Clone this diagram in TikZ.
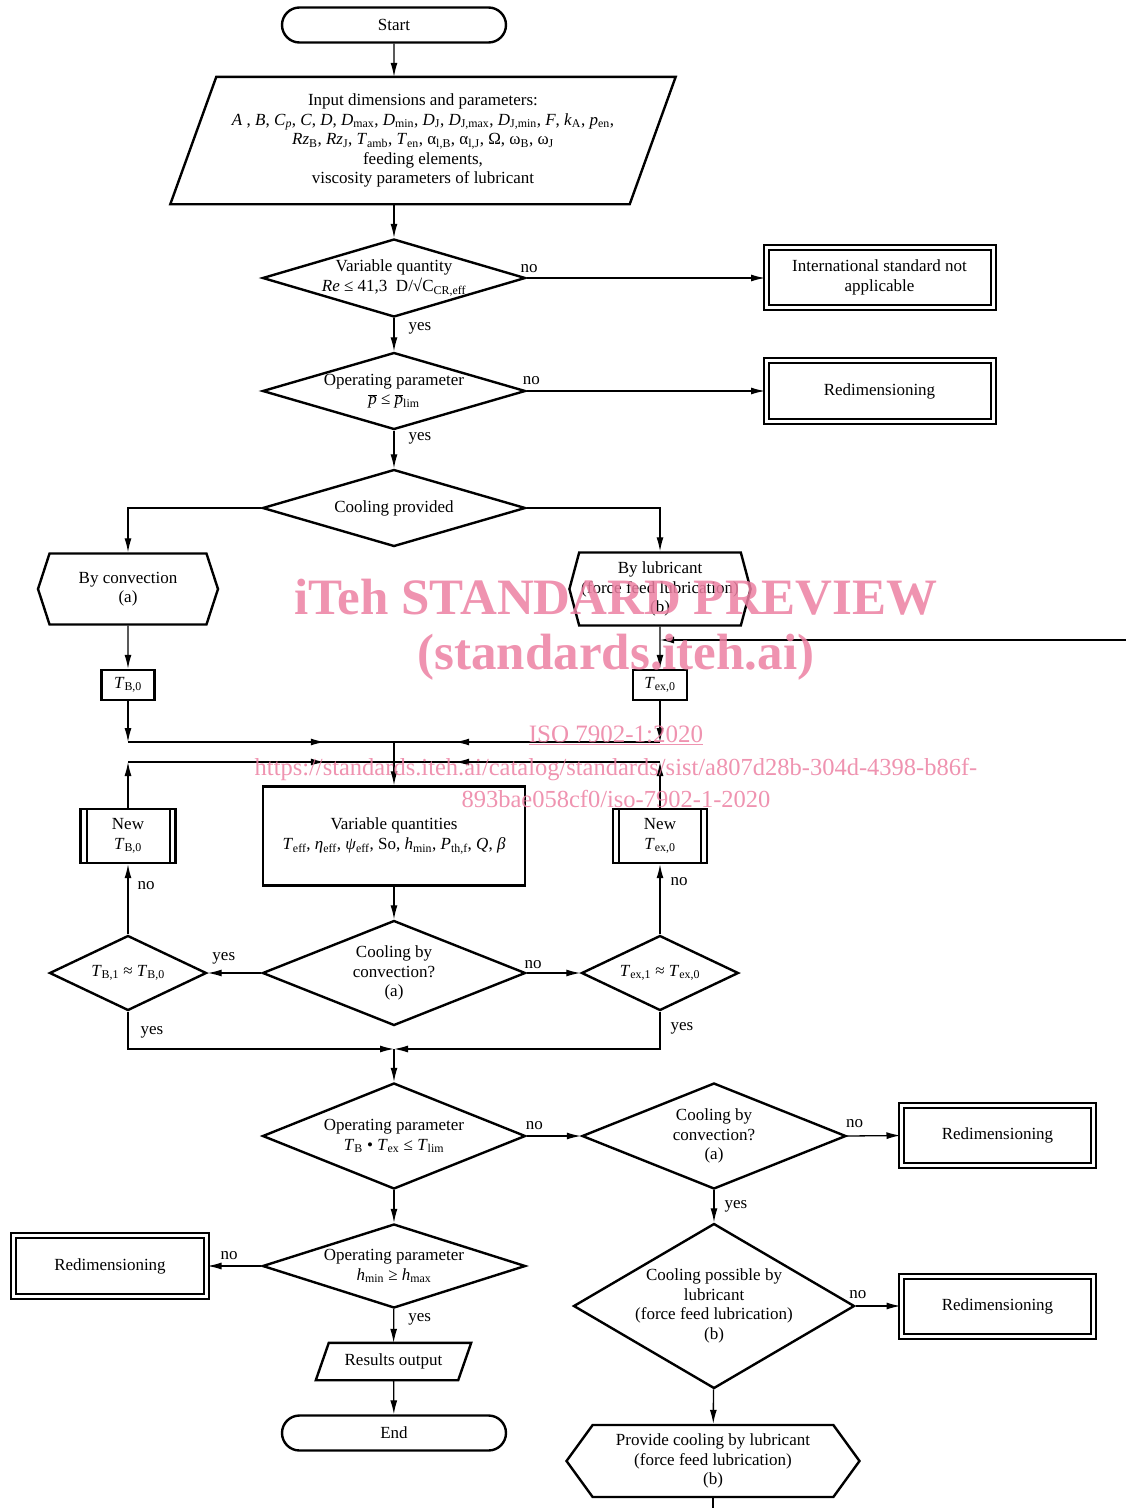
\documentclass[tikz,border=0pt]{standalone}
\usepackage{fontspec}
\setmainfont{Liberation Serif}
\usetikzlibrary{positioning,shapes.geometric,shapes.misc,shapes.symbols,arrows.meta,decorations.markings}

\newcommand{\idx}[1]{\textsubscript{#1}}
\newcommand{\pbar}{$\overline{\mbox{\textit{p}}}$}
\definecolor{wmpink}{RGB}{236,128,162}

\tikzset{
	base/.style={draw, line width=2.4pt, align=center, inner sep=2pt},
	term/.style={base, rounded rectangle, minimum width=228pt, minimum height=35pt},
	io/.style={align=center, inner sep=2pt},
	slant/.style={line width=2.4pt},
	dia/.style={base, diamond, inner sep=-5pt},
	hexa/.style={base, signal, signal to=east and west},
	box/.style={base, rectangle},
	dbox/.style={draw, double, double distance=3pt, line width=2pt, align=center},
	newbox/.style={box, path picture={\draw[line width=2pt] ([xshift=6pt]path picture bounding box.north west) -- ([xshift=6pt]path picture bounding box.south west) ([xshift=-6pt]path picture bounding box.north east) -- ([xshift=-6pt]path picture bounding box.south east);}},
	arr/.style={-{Latex[length=14pt,width=7pt]}, line width=1.3pt},
	line/.style={line width=1.3pt},
	midarr/.style={line, postaction={decorate}, decoration={markings, mark=at position #1 with {\arrow{Latex[length=14pt,width=7pt]}}}},
	lbl/.style={inner sep=2pt},
	wm/.style={text=wmpink, opacity=0.85, align=center, inner sep=0pt}
}

\begin{document}
\begin{tikzpicture}[x=1pt, y=-1pt, font=\fontsize{17}{19.5}\selectfont]
	\useasboundingbox (0,0) rectangle (1126,1508);

	\node[term] (start) at (394,25) {Start};
	\node[io, minimum width=459pt, minimum height=127pt] (input) at (423,140.5) {Input dimensions and parameters:\\
		\textit{A} , \textit{B}, \textit{C}\idx{\textit{p}}, \textit{C}, \textit{D}, \textit{D}\idx{max}, \textit{D}\idx{min}, \textit{D}\idx{J}, \textit{D}\idx{J,max}, \textit{D}\idx{J,min}, \textit{F}, \textit{k}\idx{A}, \textit{p}\idx{en},\\
		\textit{Rz}\idx{B}, \textit{Rz}\idx{J}, \textit{T}\idx{amb}, \textit{T}\idx{en}, α\idx{l,B}, α\idx{l,J}, Ω, ω\idx{B}, ω\idx{J}\\
		feeding elements,\\
		viscosity parameters of lubricant};
	\draw[slant] ([xshift=23pt]input.north west) -- ([xshift=23pt]input.north east) -- ([xshift=-23pt]input.south east) -- ([xshift=-23pt]input.south west) -- cycle;
	\node[dia, aspect=3.3, minimum width=263pt, minimum height=78pt] (d1) at (394,278) {Variable quantity\\ \textit{Re} ≤ 41,3~~D/√C\idx{CR,eff}};
	\node[dbox, minimum width=227pt, minimum height=60pt] (intl) at (879.5,277.5) {International standard not\\applicable};
	\node[dia, aspect=3.3, minimum width=263pt, minimum height=77pt] (d2) at (394,391) {Operating parameter\\ \pbar{} ≤ \pbar\idx{lim}};
	\node[dbox, minimum width=227pt, minimum height=61pt] (redimA) at (879.5,391) {Redimensioning};
	\node[dia, aspect=3.3, minimum width=263pt, minimum height=77pt] (d3) at (394,508) {Cooling provided};

	\node[hexa, signal pointer angle=144, minimum width=180pt, minimum height=71pt] (conv) at (128,589) {By convection\\(a)};
	\node[hexa, signal pointer angle=150, minimum width=174pt, minimum height=73pt] (lub) at (660,589) {By lubricant\\(force feed lubrication)\\(b)};
	\node[box, minimum width=53pt, minimum height=30pt] (tb0) at (128,685) {\textit{T}\idx{B,0}};
	\node[box, minimum width=54pt, minimum height=30pt] (tex0) at (660,685) {\textit{T}\idx{ex,0}};

	\coordinate (j1) at (394,742);
	\coordinate (j2) at (394,762);
	\node[box, minimum width=262pt, minimum height=99pt] (vq) at (394,836) {Variable quantities\\ \textit{T}\idx{eff}, \textit{η}\idx{eff}, \textit{ψ}\idx{eff}, So, \textit{h}\idx{min}, \textit{P}\idx{th,f}, \textit{Q}, \textit{β}};
	\node[newbox, minimum width=95pt, minimum height=54pt] (newb) at (128,836) {New\\ \textit{T}\idx{B,0}};
	\node[newbox, minimum width=94pt, minimum height=54pt] (newex) at (660,836) {New\\ \textit{T}\idx{ex,0}};

	\node[dia, aspect=2.5, minimum width=263pt, minimum height=105pt] (d4) at (394,973) {Cooling by\\convection?\\(a)};
	\node[dia, aspect=2.06, minimum width=157pt, minimum height=75pt] (d5) at (128,973) {\textit{T}\idx{B,1} ≈ \textit{T}\idx{B,0}};
	\node[dia, aspect=2.06, minimum width=157pt, minimum height=75pt] (d6) at (660,973) {\textit{T}\idx{ex,1} ≈ \textit{T}\idx{ex,0}};
	\coordinate (j3) at (394,1049);

	\node[dia, aspect=2.45, minimum width=263pt, minimum height=106pt] (d7) at (394,1136) {Operating parameter\\ \textit{T}\idx{B} • \textit{T}\idx{ex} ≤ \textit{T}\idx{lim}};
	\node[dia, aspect=2.45, minimum width=264pt, minimum height=106pt] (d8) at (714,1136) {Cooling by\\convection?\\(a)};
	\node[dbox, minimum width=192pt, minimum height=60pt] (redimB) at (997.5,1135.5) {Redimensioning};
	\node[dia, aspect=3.1, minimum width=263pt, minimum height=84pt] (d9) at (394,1266) {Operating parameter\\ \textit{h}\idx{min} ≥ \textit{h}\idx{max}};
	\node[dbox, minimum width=193pt, minimum height=61pt] (redimC) at (110,1266) {Redimensioning};
	\node[dia, aspect=1.7, minimum width=281pt, minimum height=165pt] (d10) at (714,1306) {Cooling possible by\\lubricant\\(force feed lubrication)\\(b)};
	\node[dbox, minimum width=192pt, minimum height=60pt] (redimD) at (997.5,1306) {Redimensioning};
	\node[io, minimum width=142pt, minimum height=37pt] (results) at (393.5,1361.5) {Results output};
	\draw[slant] ([xshift=6.5pt]results.north west) -- ([xshift=6.5pt]results.north east) -- ([xshift=-6.5pt]results.south east) -- ([xshift=-6.5pt]results.south west) -- cycle;
	\node[term] (end) at (394,1433) {End};
	\node[hexa, signal pointer angle=108, minimum width=293pt, minimum height=72pt] (provide) at (713,1461) {Provide cooling by lubricant\\(force feed lubrication)\\(b)};
	\coordinate (e1) at (1126,640);
	\coordinate (e2) at (713,1508);

	\draw[arr] (start) -- (start |- input.north);
	\draw[arr] (start |- input.south) -- (d1);
	\draw[arr] (d1.east) -- node[lbl, above=3pt, pos=0.01] {no} (d1.east -| intl.west);
	\draw[arr] (d1) -- node[lbl, right=12pt, pos=0.3] {yes} (d2);
	\draw[arr] (d2.east) -- node[lbl, above=4pt, pos=0.02] {no} (redimA.west);
	\draw[arr] (d2) -- node[lbl, right=12pt, pos=0.2] {yes} (d3);
	\draw[arr] (d3.west) -| (conv);
	\draw[arr] (d3.east) -| (lub);
	\draw[arr] (conv) -- (tb0);
	\draw[arr] (lub) -- (tex0);
	\draw[arr] (e1) -- (lub.south |- e1);
	\draw[arr] (tb0) -- (tb0 |- j1);
	\draw[midarr=0.74] (tb0 |- j1) -- (j1);
	\draw[arr] (tex0) -- (tex0 |- j1);
	\draw[midarr=0.77] (tex0 |- j1) -- (j1);
	\draw[arr] (newb) -- (newb |- j2);
	\draw[midarr=0.74] (newb |- j2) -- (j2);
	\draw[arr] (newex) -- (newex |- j2);
	\draw[midarr=0.77] (newex |- j2) -- (j2);
	\draw[arr] (j1) -- (vq);
	\draw[arr] (vq) -- (d4);
	\draw[arr] (d4.west) -- node[lbl, above=6pt, pos=0.7] {yes} (d5.east);
	\draw[arr] (d4.east) -- node[lbl, above=2pt, pos=0.12] {no} (d6.west);
	\draw[arr] (d5) -- node[lbl, right=7pt, pos=0.69] {no} (newb);
	\draw[arr] (d6) -- node[lbl, right=8pt, pos=0.75] {no} (newex);
	\draw[arr] (d5.south) |- node[lbl, right=10pt, pos=0.28] {yes} (j3);
	\draw[arr] (d6.south) |- node[lbl, right=8pt, pos=0.22] {yes} (j3);
	\draw[arr] (j3) -- (d7);
	\draw[arr] (d7.east) -- node[lbl, above=4pt, pos=0.14] {no} (d8.west);
	\draw[arr] (d8.east) -- node[lbl, above=6pt, pos=0.14] {no} (redimB.west);
	\draw[arr] (d8) -- node[lbl, right=8pt, pos=0.5] {yes} (d10);
	\draw[arr] (d10.east) -- node[lbl, above=5pt, pos=0.05] {no} (redimD.west);
	\draw[arr] (d10) -- (provide);
	\draw[line] (provide) -- (e2);
	\draw[arr] (d7) -- (d9);
	\draw[arr] (d9.west) -- node[lbl, above=4pt, pos=0.6] {no} (redimC.east);
	\draw[arr] (d9) -- node[lbl, right=12pt, pos=0.3] {yes} (results);
	\draw[arr] (results) -- (end);

	\node[wm, font=\bfseries\fontsize{51}{51}\selectfont] (wm1) at (616,597) {iTeh STANDARD PREVIEW};
	\node[wm, font=\bfseries\fontsize{51}{51}\selectfont] (wm2) at (616,657) {(standards.iteh.ai)};
	\node[wm, font=\fontsize{25}{25}\selectfont] (wm3) at (616,735) {\underline{ISO 7902-1:2020}};
	\node[wm, font=\fontsize{24.5}{32}\selectfont] (wm4) at (616,783) {https://standards.iteh.ai/catalog/standards/sist/a807d28b-304d-4398-b86f-\\893bae058cf0/iso-7902-1-2020};
\end{tikzpicture}
\end{document}
